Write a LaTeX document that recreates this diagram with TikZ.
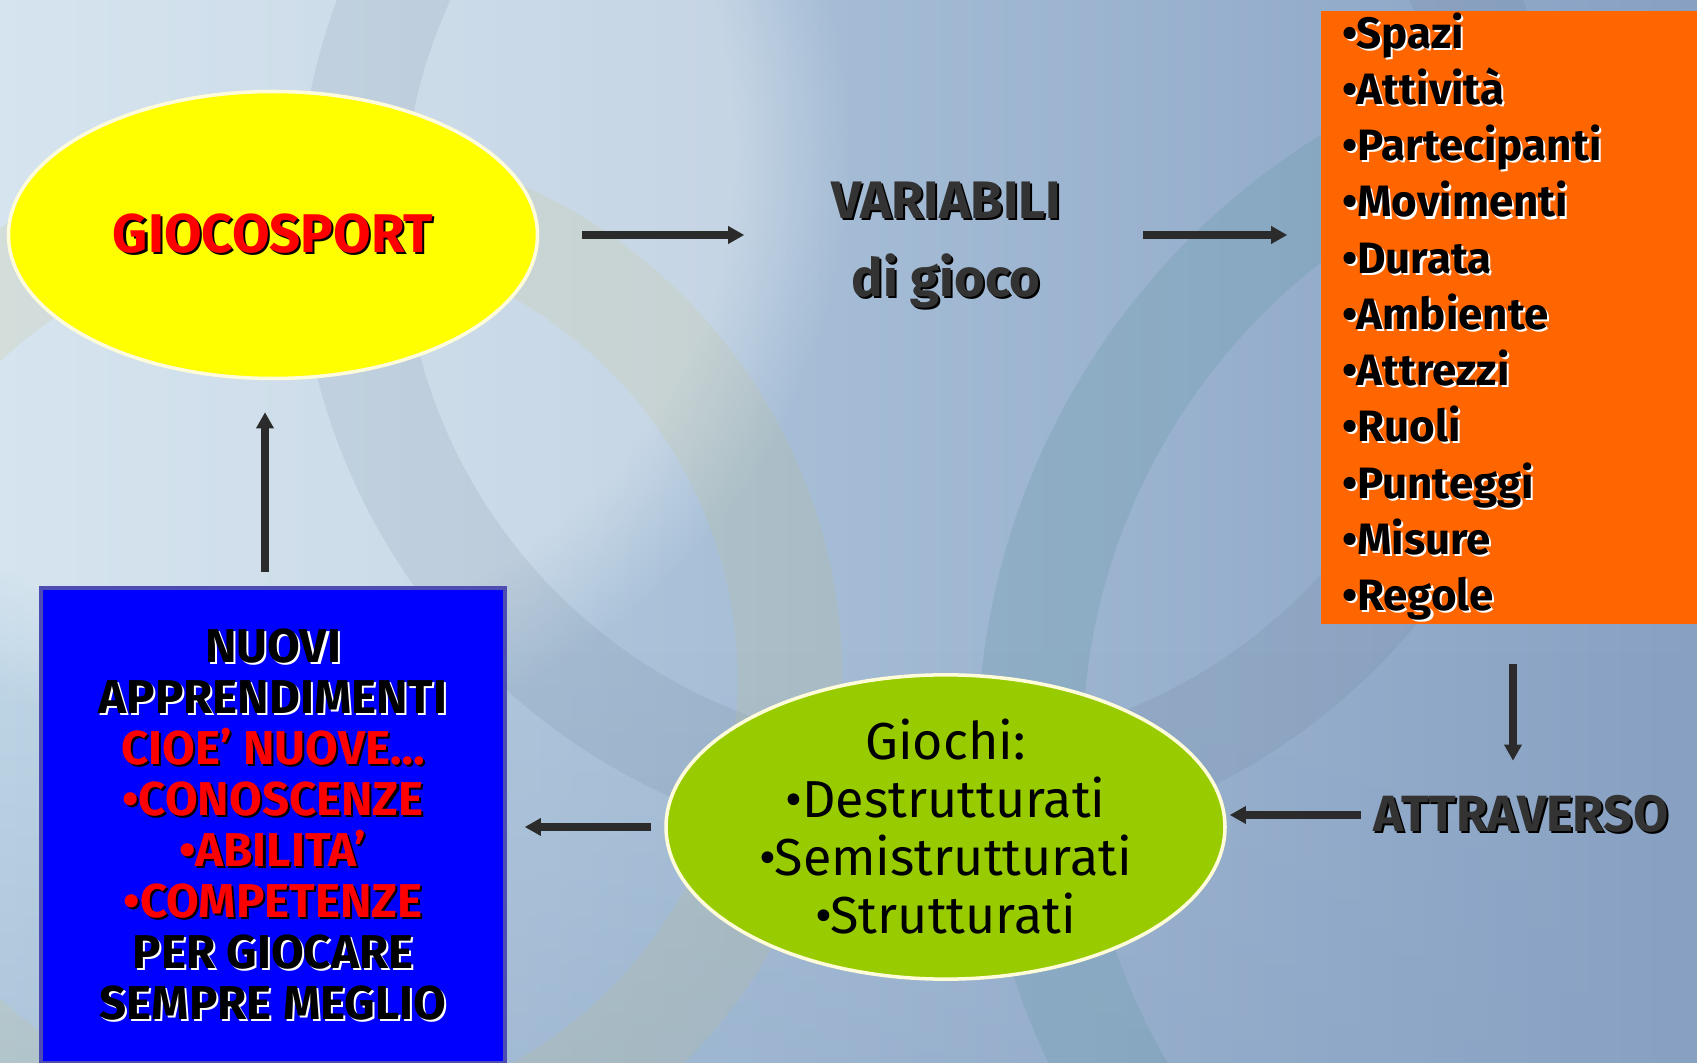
\documentclass[tikz,border=0pt]{standalone}
\usepackage{fontspec}
\setmainfont{Fira Sans}
\usetikzlibrary{positioning}
\usetikzlibrary{shapes.geometric}
\usetikzlibrary{arrows.meta}
\usetikzlibrary{fadings}

\definecolor{bgleft}{HTML}{BFD6E6}
\definecolor{bgright}{HTML}{88A1C3}
\definecolor{ovalyellow}{HTML}{FFFF00}
\definecolor{boxorange}{HTML}{FF6600}
\definecolor{ovalgreen}{HTML}{99CC00}
\definecolor{boxblue}{HTML}{0000FF}
\definecolor{arrowgray}{HTML}{2B2B2B}
\definecolor{txtred}{HTML}{FF0000}
\definecolor{txtdark}{HTML}{333333}
\definecolor{ringgray}{HTML}{56677E}
\definecolor{ringyellow}{HTML}{C9C27A}
\definecolor{ringteal}{HTML}{4E8E96}

% text with a small offset shadow: {shadow colour}{text colour}{text}
\newcommand{\shadowtext}[3]{\leavevmode\rlap{\kern0.6pt\raisebox{-0.6pt}{\textcolor{#1}{#3}}}\textcolor{#2}{#3}}
\newcommand{\lightsh}[1]{\shadowtext{white}{black}{#1}}
\newcommand{\darksh}[1]{\shadowtext{black}{txtred}{#1}}

\begin{document}
\begin{tikzpicture}[
        oval/.style={ellipse, draw=white!85!yellow, line width=1pt, inner sep=0pt},
        plain label/.style={inner sep=0pt, align=center},
        list box/.style={rectangle, fill=boxorange, inner ysep=0pt, inner xsep=0.21cm, align=left},
        result box/.style={rectangle, fill=boxblue, draw=blue!40!gray, line width=1pt, align=center},
        flow/.style={-{Triangle[length=4.6pt,width=4.8pt]}, line width=2.2pt, draw=arrowgray},
        ring/.style={line width=1.05cm, opacity=0.13},
    ]

    \useasboundingbox (0,0) rectangle (16.97,-10.63);

    % Background
    \shade[left color=bgleft, right color=bgright] (0,0) rectangle (16.97,-10.63);
    \fill[white, opacity=0.35, path fading=circle with fuzzy edge 20 percent] (2.5,-1.5) circle (6);
    \fill[bgright, opacity=0.3, path fading=north] (0,-6.5) rectangle (16.97,-10.63);
    \begin{scope}
        \clip (0,0) rectangle (16.97,-10.63);
        \draw[ring, draw=ringgray, opacity=0.11] (9.3,-2.2) circle (5.8);
        \draw[ring, draw=ringyellow, opacity=0.16] (3.0,-6.8) circle (4.9);
        \draw[ring, draw=ringteal, opacity=0.18] (17.0,-7.5) circle (6.7);
    \end{scope}

    % Giocosport oval
    \node[oval, fill=ovalyellow, minimum width=5.29cm, minimum height=2.87cm,
          font=\bfseries\fontsize{15.5}{17}\selectfont] (giocosport) at (2.73,-2.35)
          {\darksh{GIOCOSPORT}};

    % Variabili di gioco
    \node[plain label, minimum width=3.4cm, font=\bfseries\fontsize{15}{22}\selectfont] (variabili) at (9.46,-2.46)
          {\shadowtext{black}{txtdark}{VARIABILI}\\\shadowtext{black}{txtdark}{di gioco}};

    % List of variables
    \node[list box, minimum width=3.76cm, minimum height=6.13cm, text width=3.34cm,
          font=\bfseries\fontsize{12.5}{16}\selectfont] (variables) at (15.09,-3.175)
          {\lightsh{•Spazi}\\\lightsh{•Attività}\\\lightsh{•Partecipanti}\\\lightsh{•Movimenti}\\
           \lightsh{•Durata}\\\lightsh{•Ambiente}\\\lightsh{•Attrezzi}\\\lightsh{•Ruoli}\\
           \lightsh{•Punteggi}\\\lightsh{•Misure}\\\lightsh{•Regole}};

    % Attraverso
    \node[plain label, font=\bfseries\fontsize{14.5}{16}\selectfont] (attraverso) at (15.21,-8.15)
          {\shadowtext{black}{txtdark}{ATTRAVERSO}};

    % Giochi oval
    \node[oval, fill=ovalgreen, minimum width=5.59cm, minimum height=2.88cm, align=center,
          font=\fontsize{14.8}{16.5}\selectfont] (giochi) at (9.455,-8.27)
          {Giochi:\\•Destrutturati\\•Semistrutturati\\•Strutturati};

    % Nuovi apprendimenti box
    \node[result box, minimum width=4.64cm, minimum height=4.75cm,
          font=\bfseries\fontsize{13.5}{14.5}\selectfont] (nuovi) at (2.73,-8.255)
          {\lightsh{NUOVI}\\\lightsh{APPRENDIMENTI}\\
           \darksh{CIOE’ NUOVE…}\\\darksh{•CONOSCENZE}\\
           \darksh{•ABILITA’}\\\darksh{•COMPETENZE}\\
           \lightsh{PER GIOCARE}\\\lightsh{SEMPRE MEGLIO}};

    % Arrows
    \draw[flow, shorten <=0.43cm, shorten >=0.31cm] (giocosport.east) -- (giocosport.east -| variabili.west);
    \draw[flow, shorten <=0.26cm, shorten >=0.33cm] (giocosport.east -| variabili.east) -- (giocosport.east -| variables.west);
    \draw[flow, shorten <=0.39cm, shorten >=0.34cm] ([xshift=-0.08cm]variables.south -| attraverso) -- ([xshift=-0.08cm]attraverso.north);
    \draw[flow, shorten <=0.12cm, shorten >=0.03cm] (attraverso.west) -- (attraverso.west -| giochi.east);
    \draw[flow, shorten <=0.13cm, shorten >=0.18cm] (giochi.west) -- (giochi.west -| nuovi.east);
    \draw[flow, shorten <=0.14cm, shorten >=0.32cm] ([xshift=-0.08cm]nuovi.north) -- ([xshift=-0.08cm]giocosport.south);

\end{tikzpicture}
\end{document}
